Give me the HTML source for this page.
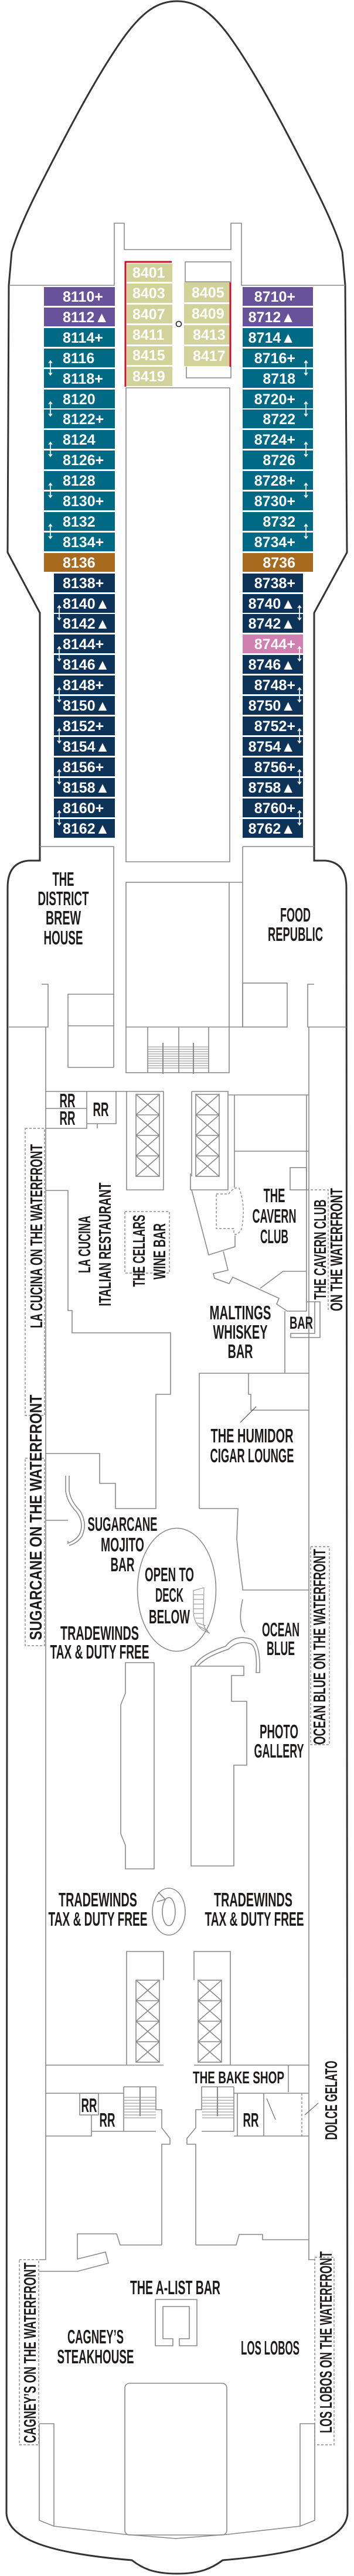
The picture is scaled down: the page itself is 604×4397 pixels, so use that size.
<!DOCTYPE html>
<html><head><meta charset="utf-8"><style>
html,body{margin:0;padding:0;background:#fff;}
svg{display:block;}
.g{fill:none;stroke:#8a8a8a;stroke-width:1.6;}
.d{fill:none;stroke:#8a8a8a;stroke-width:1.4;stroke-dasharray:4 3;}
.c{font-family:"Liberation Sans","DejaVu Sans",sans-serif;font-weight:bold;font-size:25px;fill:#fff;}
.l{font-family:"Liberation Sans Narrow","Liberation Sans",sans-serif;font-weight:bold;font-size:33px;fill:#1d1a1a;text-anchor:middle;}
.ar{stroke:#fff;stroke-width:1.6;fill:none;}
</style></head><body>
<svg width="604" height="4397" viewBox="0 0 604 4397" xmlns="http://www.w3.org/2000/svg">
<!-- hull -->
<path fill="none" stroke="#333" stroke-width="3" d="M302 2 C335 2 360 20 390 60 C430 115 470 190 492 232 C530 305 570 380 584 430 L589 487 L592 943 L536 1046 L536 1469 L555 1469 Q591 1472 591 1515 L593 4290 C590 4340 500 4360 380 4370 C360 4385 340 4393 302 4393 C264 4393 244 4385 225 4370 C105 4360 14 4340 11 4290 L13 1515 Q13 1472 49 1469 L68 1469 L68 1046 L13 943 L15 487 L20 430 C34 380 74 305 112 232 C134 190 174 115 214 60 C244 20 269 2 302 2 Z"/>
<!-- top structure -->
<path class="g" d="M17 487 H195 V381 H212 V426 H394 V381 H412 V487 H589"/>
<rect class="g" x="316" y="447" width="78" height="34"/>
<path class="g" d="M318 626 V645 H394 V626"/>
<path class="g" d="M215 1471 V662 H392 V1471 Z"/>
<circle cx="305" cy="553" r="4.5" fill="none" stroke="#222" stroke-width="1.6"/>
<!-- center cabins -->
<g fill="#d2d39a">
<rect x="216" y="450" width="78" height="31"/><rect x="216" y="484" width="78" height="33"/><rect x="216" y="520" width="78" height="32"/><rect x="216" y="555" width="78" height="33"/><rect x="216" y="591" width="78" height="32"/><rect x="216" y="626" width="78" height="33"/>
<rect x="314" y="482" width="79" height="34"/><rect x="314" y="519" width="79" height="33"/><rect x="314" y="555" width="79" height="33"/><rect x="314" y="591" width="79" height="34"/>
</g>
<path d="M214 660 V447 H293" fill="none" stroke="#c8102e" stroke-width="3"/>
<path d="M393 482 V626" fill="none" stroke="#c8102e" stroke-width="3"/>
<g class="c">
<text x="226" y="474">8401</text><text x="226" y="509">8403</text><text x="226" y="545">8407</text><text x="226" y="580">8411</text><text x="226" y="615">8415</text><text x="226" y="651">8419</text>
<text x="327" y="508">8405</text><text x="327" y="544">8409</text><text x="329" y="580">8413</text><text x="329" y="616">8417</text>
</g>
<!-- left cabins -->
<g>
<rect x="75" y="490" width="121" height="32" fill="#68529a"/><rect x="75" y="525" width="121" height="32" fill="#68529a"/>
<g fill="#006a85">
<rect x="75" y="560" width="121" height="32"/><rect x="75" y="595" width="121" height="32"/><rect x="75" y="630" width="121" height="32"/><rect x="75" y="665" width="121" height="32"/><rect x="75" y="699" width="121" height="32"/><rect x="75" y="734" width="121" height="32"/><rect x="75" y="769" width="121" height="32"/><rect x="75" y="804" width="121" height="32"/><rect x="75" y="839" width="121" height="32"/><rect x="75" y="874" width="121" height="32"/><rect x="75" y="909" width="121" height="32"/>
</g>
<rect x="75" y="944" width="121" height="32" fill="#a86a1f"/>
<g fill="#0d3358">
<rect x="92" y="979" width="104" height="32"/><rect x="92" y="1014" width="104" height="32"/><rect x="92" y="1048" width="104" height="32"/><rect x="92" y="1083" width="104" height="32"/><rect x="92" y="1118" width="104" height="32"/><rect x="92" y="1153" width="104" height="32"/><rect x="92" y="1188" width="104" height="32"/><rect x="92" y="1223" width="104" height="32"/><rect x="92" y="1258" width="104" height="32"/><rect x="92" y="1293" width="104" height="32"/><rect x="92" y="1328" width="104" height="32"/><rect x="92" y="1363" width="104" height="32"/><rect x="92" y="1398" width="104" height="32"/>
</g>
</g>
<!-- right cabins -->
<g>
<rect x="414" y="490" width="120" height="32" fill="#68529a"/><rect x="414" y="525" width="120" height="32" fill="#68529a"/>
<g fill="#006a85">
<rect x="414" y="560" width="120" height="32"/><rect x="414" y="595" width="120" height="32"/><rect x="414" y="630" width="120" height="32"/><rect x="414" y="665" width="120" height="32"/><rect x="414" y="699" width="120" height="32"/><rect x="414" y="734" width="120" height="32"/><rect x="414" y="769" width="120" height="32"/><rect x="414" y="804" width="120" height="32"/><rect x="414" y="839" width="120" height="32"/><rect x="414" y="874" width="120" height="32"/><rect x="414" y="909" width="120" height="32"/>
</g>
<rect x="414" y="944" width="120" height="32" fill="#a86a1f"/>
<g fill="#0d3358">
<rect x="414" y="979" width="103" height="32"/><rect x="414" y="1014" width="103" height="32"/><rect x="414" y="1048" width="103" height="32"/><rect x="414" y="1083" width="103" height="32" fill="#d07fb0"/><rect x="414" y="1118" width="103" height="32"/><rect x="414" y="1153" width="103" height="32"/><rect x="414" y="1188" width="103" height="32"/><rect x="414" y="1223" width="103" height="32"/><rect x="414" y="1258" width="103" height="32"/><rect x="414" y="1293" width="103" height="32"/><rect x="414" y="1328" width="103" height="32"/><rect x="414" y="1363" width="103" height="32"/><rect x="414" y="1398" width="103" height="32"/>
</g>
</g>
<g class="c">
<text x="107" y="515">8110+</text><text x="107" y="550">8112▲</text><text x="107" y="585">8114+</text><text x="107" y="620">8116</text><text x="107" y="655">8118+</text><text x="107" y="690">8120</text><text x="107" y="724">8122+</text><text x="107" y="759">8124</text><text x="107" y="794">8126+</text><text x="107" y="829">8128</text><text x="107" y="864">8130+</text><text x="107" y="899">8132</text><text x="107" y="934">8134+</text><text x="107" y="969">8136</text><text x="107" y="1004">8138+</text><text x="107" y="1039">8140▲</text><text x="107" y="1073">8142▲</text><text x="107" y="1108">8144+</text><text x="107" y="1143">8146▲</text><text x="107" y="1178">8148+</text><text x="107" y="1213">8150▲</text><text x="107" y="1248">8152+</text><text x="107" y="1283">8154▲</text><text x="107" y="1318">8156+</text><text x="107" y="1353">8158▲</text><text x="107" y="1388">8160+</text><text x="107" y="1423">8162▲</text>
</g>
<g class="c" text-anchor="end">
<text x="504" y="515">8710+</text><text x="504" y="550">8712▲</text><text x="504" y="585">8714▲</text><text x="504" y="620">8716+</text><text x="504" y="655">8718</text><text x="504" y="690">8720+</text><text x="504" y="724">8722</text><text x="504" y="759">8724+</text><text x="504" y="794">8726</text><text x="504" y="829">8728+</text><text x="504" y="864">8730+</text><text x="504" y="899">8732</text><text x="504" y="934">8734+</text><text x="504" y="969">8736</text><text x="504" y="1004">8738+</text><text x="504" y="1039">8740▲</text><text x="504" y="1073">8742▲</text><text x="504" y="1108">8744+</text><text x="504" y="1143">8746▲</text><text x="504" y="1178">8748+</text><text x="504" y="1213">8750▲</text><text x="504" y="1248">8752+</text><text x="504" y="1283">8754▲</text><text x="504" y="1318">8756+</text><text x="504" y="1353">8758▲</text><text x="504" y="1388">8760+</text><text x="504" y="1423">8762▲</text>
</g>
<!-- pair arrows -->
<defs><path id="ar" class="ar" d="M0 -12 V12 M-3 -8 L0 -12 L3 -8 M-3 8 L0 12 L3 8"/></defs>
<g>
<use href="#ar" x="86" y="628"/><use href="#ar" x="86" y="698"/><use href="#ar" x="86" y="767"/><use href="#ar" x="86" y="837"/><use href="#ar" x="86" y="907"/>
<use href="#ar" x="101" y="1046"/><use href="#ar" x="101" y="1116"/><use href="#ar" x="101" y="1186"/><use href="#ar" x="101" y="1256"/><use href="#ar" x="101" y="1326"/><use href="#ar" x="101" y="1396"/>
<use href="#ar" x="522" y="628"/><use href="#ar" x="522" y="698"/><use href="#ar" x="522" y="767"/><use href="#ar" x="522" y="837"/><use href="#ar" x="522" y="907"/>
<use href="#ar" x="511" y="1046"/><use href="#ar" x="511" y="1116"/><use href="#ar" x="511" y="1186"/><use href="#ar" x="511" y="1256"/><use href="#ar" x="511" y="1326"/><use href="#ar" x="511" y="1396"/>
</g>
<!-- District / Food republic area -->
<path class="g" d="M68 1445 H194 V1822 M414 1445 H536"/>
<path class="g" d="M116 1822 V1697 H194 M116 1751 H194 M116 1822 H194"/>
<rect class="g" x="215" y="1506" width="176" height="325"/>
<path class="g" d="M215 1753 H391 M252 1753 V1831 M356 1753 V1831 M305 1753 V1831 M391 1506 H414 M414 1445 V1753 M391 1753 H414"/>
<rect class="g" x="414" y="1678" width="76" height="75"/>
<path class="g" d="M15 1753 H82 V1680 H71 M591 1753 H525 V1680 H536"/>
<g stroke="#8a8a8a" stroke-width="1">
<path d="M252 1787 H356 M252 1791 H356 M252 1795 H356 M252 1799 H356 M252 1803 H356 M252 1807 H356 M252 1811 H356 M252 1815 H356 M252 1819 H356 M252 1823 H356"/>
<path d="M278 1780 V1833 M330 1780 V1833" stroke-width="2"/>
</g>
<path class="g" d="M78 1753 V3857 H67 M527 1753 V3857 H537"/>
<!-- RR upper left -->
<path class="g" d="M78 1863 H279 M78 1892 H148 M78 1926 H148 V1863 M148 1918 H166 V1926 M198 1863 V1918 H148 M216 1863 V2031 H279 V1863"/>
<rect class="g" x="232" y="1868" width="40" height="140"/>
<path class="g" d="M232 1903 H272 M232 1938 H272 M232 1973 H272 M232 1868 L272 1903 M272 1868 L232 1903 M232 1903 L272 1938 M272 1903 L232 1938 M232 1938 L272 1973 M272 1938 L232 1973 M232 1973 L272 2008 M272 1973 L232 2008"/>
<path class="g" d="M327 1863 H389 V2031 H325 V2003 M327 1863 V2008"/>
<rect class="g" x="334" y="1868" width="40" height="140"/>
<path class="g" d="M334 1903 H374 M334 1938 H374 M334 1973 H374 M334 1868 L374 1903 M374 1868 L334 1903 M334 1903 L374 1938 M374 1903 L334 1938 M334 1938 L374 1973 M374 1938 L334 1973 M334 1973 L374 2008 M374 1973 L334 2008"/>
<path class="g" d="M389 1869 H527 M400 1965 H527 M400 1869 V2027"/>
<rect class="g" x="495" y="1993" width="28" height="38"/>
<!-- la cucina -->
<rect class="d" x="43" y="1926" width="33" height="490"/>
<path class="g" d="M78 2032 H116 V2237 H123 V2275 H291 V2380 H266 V2575 H197 V2532 H170 V2481 H78"/>
<rect class="d" x="213" y="2068" width="76" height="105"/>
<!-- cavern -->
<path class="d" d="M369 2038 H390 Q400 2025 408 2028 Q420 2060 412 2098 Q405 2110 399 2106 V2097 H369 Z"/>
<path class="g" d="M327 2031 L356 2142 L401 2128 V2109 M381 2136 L389 2168 L364 2174 L366 2182 L391 2191 L397 2180 L476 2216 L472 2226 L490 2238 H523 V1869 M444 2199 L483 2170 H523"/>
<path class="d" d="M523 2031 H560 V2238"/>
<path class="g" d="M486 2238 V2344 M523 2222 H546 V2283 H496 V2276 H537 V2222"/>
<!-- humidor -->
<path class="g" d="M340 2575 V2344 H528 M424 2344 V2380 H428 V2407 H528 M340 2575 H406 L404 2627 Q408 2670 414 2710 V2714 H527 M414 2730 Q405 2770 418 2786"/>
<path d="M437 2401 L410 2428" stroke="#333" stroke-width="1"/>
<!-- sugarcane -->
<rect class="d" x="43" y="2489" width="33" height="320"/>
<path class="g" d="M78 2595 H116 M112 2519 V2545 Q115 2565 130 2580 Q145 2600 135 2620 Q128 2630 116 2634 V2630 M118 2519 V2545 Q121 2563 136 2578 Q150 2600 140 2622 Q132 2634 118 2638"/>
<ellipse class="g" cx="301.5" cy="2713.5" rx="67" ry="105"/>
<g stroke="#8a8a8a" stroke-width="1" fill="none"><path d="M330 2715 L348 2710 L347 2765 Q346 2780 358 2788 L345 2782 Q330 2770 330 2750 Z"/>
<path d="M330 2722 H347 M330 2730 H347 M330 2738 H347 M330 2746 H347 M331 2754 H347 M333 2762 H348 M336 2770 L351 2775 M340 2776 L355 2784"/></g>
<rect class="d" x="530" y="2640" width="32" height="338"/>
<path class="g" d="M214 2838 H263 V3190 H214 V3150 L206 3130 V2910 L214 2890 Z"/>
<path class="g" d="M326 3185 V2844 H416 V2860 H395 V2904 H421 V3013 H399 V3185 Z"/>
<path class="g" d="M332 2844 Q340 2825 385 2810 Q400 2790 425 2797 Q445 2800 443 2855 H437 Q440 2808 425 2805 Q405 2800 390 2815 Q350 2828 338 2844"/>
<ellipse class="g" cx="288" cy="3263" rx="28" ry="40"/>
<ellipse class="g" cx="288" cy="3263" rx="11" ry="24"/>
<path class="g" d="M270 3230 L282 3242 L268 3246"/>
<!-- lower elevators -->
<path class="g" d="M216 3525 V3331 H279 V3380 M331 3380 V3331 H393 V3525"/>
<rect class="g" x="232" y="3380" width="40" height="140"/>
<path class="g" d="M232 3415 H272 M232 3450 H272 M232 3485 H272 M232 3380 L272 3415 M272 3380 L232 3415 M232 3415 L272 3450 M272 3415 L232 3450 M232 3450 L272 3485 M272 3450 L232 3485 M232 3485 L272 3520 M272 3485 L232 3520"/>
<rect class="g" x="338" y="3380" width="40" height="140"/>
<path class="g" d="M338 3415 H378 M338 3450 H378 M338 3485 H378 M338 3380 L378 3415 M378 3380 L338 3415 M338 3415 L378 3450 M378 3415 L338 3450 M338 3450 L378 3485 M378 3450 L338 3485 M338 3485 L378 3520 M378 3485 L338 3520"/>
<path class="g" d="M78 3525 H279 M331 3525 H528 M492 3525 V3571"/>
<!-- lower RR / stairs -->
<path class="g" d="M78 3573 H211 M78 3646 H156 V3638 H266 M156 3610 V3638 M211 3562 H266 V3601 H276 V3632 L290 3650 V3660 H276 V3832"/>
<rect class="g" x="136" y="3573" width="32" height="37"/>
<path class="g" d="M211 3562 V3638"/>
<path class="g" d="M399 3562 H344 V3601 H334 V3632 L319 3650 V3660 H334 V3832 M344 3638 H399 V3562 M399 3573 H527 M405 3573 V3646 M399 3646 H527 M450 3573 V3646"/>
<path class="d" d="M515 3573 V3646"/>
<g stroke="#8a8a8a" stroke-width="1"><path d="M212 3580 H266 M212 3585 H266 M212 3590 H266 M212 3595 H266 M212 3600 H266 M212 3605 H266 M212 3610 H266 M212 3615 H266 M345 3580 H399 M345 3585 H399 M345 3590 H399 M345 3595 H399 M345 3600 H399 M345 3605 H399 M345 3610 H399 M345 3615 H399"/><path d="M239 3562 V3612 M371 3562 V3612" stroke-width="2"/></g>
<path d="M455 3582 L470 3618 M520 3610 L543 3590" stroke="#555" stroke-width="1"/>
<!-- aft -->
<path class="g" d="M67 3877 H132 L185 3863 L180 3844 L132 3856 V3813 H199 L205 3832 H276 M334 3832 H403 L408 3814 H448 V3823 H527"/>
<rect class="d" x="33" y="3857" width="33" height="316"/>
<rect class="d" x="537" y="3853" width="33" height="320"/>
<path class="g" d="M265 3925 H336 V4004 H306 V3992 H323 V3937 H278 V3992 H295 V4004 H265 Z"/>
<path class="g" d="M67 4137 H92 V4312 M67 4137 V4302 L92 4312 L213 4326 L300 4333 L388 4326 L512 4312 L537 4302 V4137 H512 V4312"/>
<rect class="g" x="213" y="4068" width="174" height="259" rx="8"/>
<!-- labels -->
<g class="l">
<text x="108" y="1512" textLength="37" lengthAdjust="spacingAndGlyphs">THE</text>
<text x="108" y="1545" textLength="87" lengthAdjust="spacingAndGlyphs">DISTRICT</text>
<text x="108" y="1578" textLength="60" lengthAdjust="spacingAndGlyphs">BREW</text>
<text x="108" y="1612" textLength="67" lengthAdjust="spacingAndGlyphs">HOUSE</text>
<text x="504" y="1573" textLength="52" lengthAdjust="spacingAndGlyphs">FOOD</text>
<text x="504" y="1606" textLength="94" lengthAdjust="spacingAndGlyphs">REPUBLIC</text>
<text x="115" y="1890" textLength="27" lengthAdjust="spacingAndGlyphs">RR</text>
<text x="115" y="1920" textLength="27" lengthAdjust="spacingAndGlyphs">RR</text>
<text x="172" y="1905" textLength="27" lengthAdjust="spacingAndGlyphs">RR</text>
<text x="468" y="2052" textLength="37" lengthAdjust="spacingAndGlyphs">THE</text>
<text x="468" y="2087" textLength="75" lengthAdjust="spacingAndGlyphs">CAVERN</text>
<text x="468" y="2122" textLength="48" lengthAdjust="spacingAndGlyphs">CLUB</text>
<text x="410" y="2252" textLength="105" lengthAdjust="spacingAndGlyphs">MALTINGS</text>
<text x="410" y="2285" textLength="93" lengthAdjust="spacingAndGlyphs">WHISKEY</text>
<text x="410" y="2318" textLength="43" lengthAdjust="spacingAndGlyphs">BAR</text>
<text x="514" y="2268" textLength="40" lengthAdjust="spacingAndGlyphs" style="font-size:30px">BAR</text>
<text x="430" y="2462" textLength="141" lengthAdjust="spacingAndGlyphs">THE HUMIDOR</text>
<text x="430" y="2496" textLength="143" lengthAdjust="spacingAndGlyphs">CIGAR LOUNGE</text>
<text x="209" y="2613" textLength="119" lengthAdjust="spacingAndGlyphs">SUGARCANE</text>
<text x="209" y="2648" textLength="74" lengthAdjust="spacingAndGlyphs">MOJITO</text>
<text x="209" y="2682" textLength="41" lengthAdjust="spacingAndGlyphs">BAR</text>
<text x="289" y="2699" textLength="84" lengthAdjust="spacingAndGlyphs">OPEN TO</text>
<text x="289" y="2734" textLength="48" lengthAdjust="spacingAndGlyphs">DECK</text>
<text x="289" y="2771" textLength="70" lengthAdjust="spacingAndGlyphs">BELOW</text>
<text x="170" y="2799" textLength="134" lengthAdjust="spacingAndGlyphs">TRADEWINDS</text>
<text x="170" y="2831" textLength="169" lengthAdjust="spacingAndGlyphs">TAX &amp; DUTY FREE</text>
<text x="479" y="2793" textLength="64" lengthAdjust="spacingAndGlyphs">OCEAN</text>
<text x="479" y="2825" textLength="48" lengthAdjust="spacingAndGlyphs">BLUE</text>
<text x="476" y="2967" textLength="66" lengthAdjust="spacingAndGlyphs">PHOTO</text>
<text x="476" y="3000" textLength="85" lengthAdjust="spacingAndGlyphs">GALLERY</text>
<text x="167" y="3254" textLength="134" lengthAdjust="spacingAndGlyphs">TRADEWINDS</text>
<text x="167" y="3287" textLength="169" lengthAdjust="spacingAndGlyphs">TAX &amp; DUTY FREE</text>
<text x="432" y="3254" textLength="134" lengthAdjust="spacingAndGlyphs">TRADEWINDS</text>
<text x="434" y="3287" textLength="169" lengthAdjust="spacingAndGlyphs">TAX &amp; DUTY FREE</text>
<text x="407" y="3556" textLength="156" lengthAdjust="spacingAndGlyphs" style="font-size:29px">THE BAKE SHOP</text>
<text x="152" y="3605" textLength="27" lengthAdjust="spacingAndGlyphs">RR</text>
<text x="183" y="3630" textLength="27" lengthAdjust="spacingAndGlyphs">RR</text>
<text x="428" y="3630" textLength="27" lengthAdjust="spacingAndGlyphs">RR</text>
<text x="299" y="3916" textLength="154" lengthAdjust="spacingAndGlyphs">THE A-LIST BAR</text>
<text x="163" y="4000" textLength="96" lengthAdjust="spacingAndGlyphs">CAGNEY’S</text>
<text x="163" y="4034" textLength="131" lengthAdjust="spacingAndGlyphs">STEAKHOUSE</text>
<text x="461" y="4019" textLength="100" lengthAdjust="spacingAndGlyphs">LOS LOBOS</text>
</g>
<g class="l" style="font-size:29px">
<text transform="translate(143,2124) rotate(-90)" y="11" textLength="98" lengthAdjust="spacingAndGlyphs">LA CUCINA</text>
<text transform="translate(178,2124) rotate(-90)" y="11" textLength="211" lengthAdjust="spacingAndGlyphs">ITALIAN RESTAURANT</text>
<text transform="translate(236,2135) rotate(-90)" y="11" textLength="123" lengthAdjust="spacingAndGlyphs">THE CELLARS</text>
<text transform="translate(271,2136) rotate(-90)" y="11" textLength="96" lengthAdjust="spacingAndGlyphs">WINE BAR</text>
<text transform="translate(61,2110) rotate(-90)" y="11" textLength="314" lengthAdjust="spacingAndGlyphs">LA CUCINA ON THE WATERFRONT</text>
<text transform="translate(60,2590) rotate(-90)" y="11" textLength="419" lengthAdjust="spacingAndGlyphs">SUGARCANE ON THE WATERFRONT</text>
<text transform="translate(544,2811) rotate(-90)" y="11" textLength="334" lengthAdjust="spacingAndGlyphs">OCEAN BLUE ON THE WATERFRONT</text>
<text transform="translate(545,2133) rotate(-90)" y="11" textLength="171" lengthAdjust="spacingAndGlyphs">THE CAVERN CLUB</text>
<text transform="translate(573,2133) rotate(-90)" y="11" textLength="210" lengthAdjust="spacingAndGlyphs">ON THE WATERFRONT</text>
<text transform="translate(564,3585) rotate(-90)" y="11" textLength="135" lengthAdjust="spacingAndGlyphs">DOLCE GELATO</text>
<text transform="translate(50,4016) rotate(-90)" y="11" textLength="308" lengthAdjust="spacingAndGlyphs">CAGNEY’S ON THE WATERFRONT</text>
<text transform="translate(555,3998) rotate(-90)" y="11" textLength="310" lengthAdjust="spacingAndGlyphs">LOS LOBOS ON THE WATERFRONT</text>
</g>
</svg>
</body></html>
